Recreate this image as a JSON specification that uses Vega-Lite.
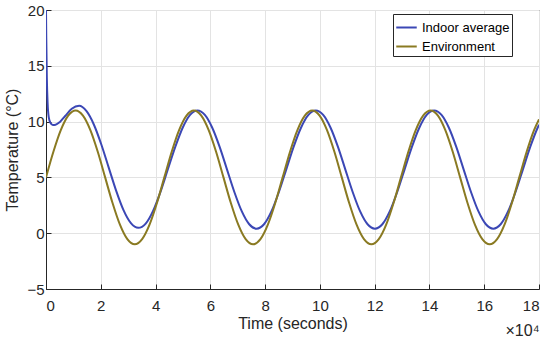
{
  "$schema": "https://vega.github.io/schema/vega-lite/v6.json",
  "width": 493,
  "height": 279,
  "autosize": {"type": "none"},
  "padding": {"left": 46, "top": 10, "right": 11, "bottom": 49},
  "background": "white",
  "config": {
    "font": "Liberation Sans",
    "view": {"stroke": "#262626", "strokeWidth": 1},
    "axis": {
      "domainColor": "#262626",
      "tickColor": "#262626",
      "labelColor": "#262626",
      "titleColor": "#262626",
      "gridColor": "#e3e3e3",
      "labelFontSize": 15,
      "titleFontSize": 16,
      "titleFontWeight": "normal",
      "tickSize": -5
    }
  },
  "title": {
    "text": "×10⁴",
    "orient": "bottom",
    "anchor": "end",
    "fontSize": 16,
    "fontWeight": "normal",
    "color": "#262626",
    "offset": -8
  },
  "data": {
    "values": [
      {"series": "Indoor average", "t": 0, "temp": 20.0},
      {"series": "Indoor average", "t": 0.01, "temp": 17.5},
      {"series": "Indoor average", "t": 0.03, "temp": 14.0},
      {"series": "Indoor average", "t": 0.06, "temp": 11.6},
      {"series": "Indoor average", "t": 0.1, "temp": 10.4},
      {"series": "Indoor average", "t": 0.16, "temp": 9.9},
      {"series": "Indoor average", "t": 0.25, "temp": 9.7},
      {"series": "Indoor average", "t": 0.35, "temp": 9.72},
      {"series": "Indoor average", "t": 0.5, "temp": 9.95},
      {"series": "Indoor average", "t": 0.7, "temp": 10.5},
      {"series": "Indoor average", "t": 0.94, "temp": 11.15},
      {"series": "Indoor average", "t": 1.21, "temp": 11.42},
      {"series": "Indoor average", "t": 1.48, "temp": 10.93},
      {"series": "Indoor average", "t": 1.75, "temp": 9.72},
      {"series": "Indoor average", "t": 2.02, "temp": 7.95},
      {"series": "Indoor average", "t": 2.29, "temp": 5.88},
      {"series": "Indoor average", "t": 2.56, "temp": 3.82},
      {"series": "Indoor average", "t": 2.83, "temp": 2.07},
      {"series": "Indoor average", "t": 3.10, "temp": 0.90},
      {"series": "Indoor average", "t": 3.37, "temp": 0.48},
      {"series": "Indoor average", "t": 3.64, "temp": 0.86},
      {"series": "Indoor average", "t": 3.91, "temp": 2.00},
      {"series": "Indoor average", "t": 4.18, "temp": 3.71},
      {"series": "Indoor average", "t": 4.45, "temp": 5.73},
      {"series": "Indoor average", "t": 4.72, "temp": 7.73},
      {"series": "Indoor average", "t": 4.99, "temp": 9.45},
      {"series": "Indoor average", "t": 5.26, "temp": 10.60},
      {"series": "Indoor average", "t": 5.53, "temp": 11.00},
      {"series": "Indoor average", "t": 5.80, "temp": 10.60},
      {"series": "Indoor average", "t": 6.07, "temp": 9.45},
      {"series": "Indoor average", "t": 6.34, "temp": 7.73},
      {"series": "Indoor average", "t": 6.61, "temp": 5.70},
      {"series": "Indoor average", "t": 6.88, "temp": 3.67},
      {"series": "Indoor average", "t": 7.15, "temp": 1.95},
      {"series": "Indoor average", "t": 7.42, "temp": 0.80},
      {"series": "Indoor average", "t": 7.69, "temp": 0.40},
      {"series": "Indoor average", "t": 7.96, "temp": 0.80},
      {"series": "Indoor average", "t": 8.23, "temp": 1.95},
      {"series": "Indoor average", "t": 8.50, "temp": 3.67},
      {"series": "Indoor average", "t": 8.77, "temp": 5.70},
      {"series": "Indoor average", "t": 9.04, "temp": 7.73},
      {"series": "Indoor average", "t": 9.31, "temp": 9.45},
      {"series": "Indoor average", "t": 9.58, "temp": 10.60},
      {"series": "Indoor average", "t": 9.85, "temp": 11.00},
      {"series": "Indoor average", "t": 10.12, "temp": 10.60},
      {"series": "Indoor average", "t": 10.39, "temp": 9.45},
      {"series": "Indoor average", "t": 10.66, "temp": 7.73},
      {"series": "Indoor average", "t": 10.93, "temp": 5.70},
      {"series": "Indoor average", "t": 11.20, "temp": 3.67},
      {"series": "Indoor average", "t": 11.47, "temp": 1.95},
      {"series": "Indoor average", "t": 11.74, "temp": 0.80},
      {"series": "Indoor average", "t": 12.01, "temp": 0.40},
      {"series": "Indoor average", "t": 12.28, "temp": 0.80},
      {"series": "Indoor average", "t": 12.55, "temp": 1.95},
      {"series": "Indoor average", "t": 12.82, "temp": 3.67},
      {"series": "Indoor average", "t": 13.09, "temp": 5.70},
      {"series": "Indoor average", "t": 13.36, "temp": 7.73},
      {"series": "Indoor average", "t": 13.63, "temp": 9.45},
      {"series": "Indoor average", "t": 13.90, "temp": 10.60},
      {"series": "Indoor average", "t": 14.17, "temp": 11.00},
      {"series": "Indoor average", "t": 14.44, "temp": 10.60},
      {"series": "Indoor average", "t": 14.71, "temp": 9.45},
      {"series": "Indoor average", "t": 14.98, "temp": 7.73},
      {"series": "Indoor average", "t": 15.25, "temp": 5.70},
      {"series": "Indoor average", "t": 15.52, "temp": 3.67},
      {"series": "Indoor average", "t": 15.79, "temp": 1.95},
      {"series": "Indoor average", "t": 16.06, "temp": 0.80},
      {"series": "Indoor average", "t": 16.33, "temp": 0.40},
      {"series": "Indoor average", "t": 16.60, "temp": 0.80},
      {"series": "Indoor average", "t": 16.87, "temp": 1.95},
      {"series": "Indoor average", "t": 17.14, "temp": 3.67},
      {"series": "Indoor average", "t": 17.41, "temp": 5.70},
      {"series": "Indoor average", "t": 17.68, "temp": 7.73},
      {"series": "Indoor average", "t": 17.95, "temp": 9.45},
      {"series": "Indoor average", "t": 18.00, "temp": 9.72},
      {"series": "Environment", "t": 0, "temp": 5.00},
      {"series": "Environment", "t": 0.27, "temp": 7.30},
      {"series": "Environment", "t": 0.54, "temp": 9.24},
      {"series": "Environment", "t": 0.81, "temp": 10.54},
      {"series": "Environment", "t": 1.08, "temp": 11.00},
      {"series": "Environment", "t": 1.35, "temp": 10.54},
      {"series": "Environment", "t": 1.62, "temp": 9.24},
      {"series": "Environment", "t": 1.89, "temp": 7.30},
      {"series": "Environment", "t": 2.16, "temp": 5.00},
      {"series": "Environment", "t": 2.43, "temp": 2.70},
      {"series": "Environment", "t": 2.70, "temp": 0.76},
      {"series": "Environment", "t": 2.97, "temp": -0.54},
      {"series": "Environment", "t": 3.24, "temp": -1.00},
      {"series": "Environment", "t": 3.51, "temp": -0.54},
      {"series": "Environment", "t": 3.78, "temp": 0.76},
      {"series": "Environment", "t": 4.05, "temp": 2.70},
      {"series": "Environment", "t": 4.32, "temp": 5.00},
      {"series": "Environment", "t": 4.59, "temp": 7.30},
      {"series": "Environment", "t": 4.86, "temp": 9.24},
      {"series": "Environment", "t": 5.13, "temp": 10.54},
      {"series": "Environment", "t": 5.40, "temp": 11.00},
      {"series": "Environment", "t": 5.67, "temp": 10.54},
      {"series": "Environment", "t": 5.94, "temp": 9.24},
      {"series": "Environment", "t": 6.21, "temp": 7.30},
      {"series": "Environment", "t": 6.48, "temp": 5.00},
      {"series": "Environment", "t": 6.75, "temp": 2.70},
      {"series": "Environment", "t": 7.02, "temp": 0.76},
      {"series": "Environment", "t": 7.29, "temp": -0.54},
      {"series": "Environment", "t": 7.56, "temp": -1.00},
      {"series": "Environment", "t": 7.83, "temp": -0.54},
      {"series": "Environment", "t": 8.10, "temp": 0.76},
      {"series": "Environment", "t": 8.37, "temp": 2.70},
      {"series": "Environment", "t": 8.64, "temp": 5.00},
      {"series": "Environment", "t": 8.91, "temp": 7.30},
      {"series": "Environment", "t": 9.18, "temp": 9.24},
      {"series": "Environment", "t": 9.45, "temp": 10.54},
      {"series": "Environment", "t": 9.72, "temp": 11.00},
      {"series": "Environment", "t": 9.99, "temp": 10.54},
      {"series": "Environment", "t": 10.26, "temp": 9.24},
      {"series": "Environment", "t": 10.53, "temp": 7.30},
      {"series": "Environment", "t": 10.80, "temp": 5.00},
      {"series": "Environment", "t": 11.07, "temp": 2.70},
      {"series": "Environment", "t": 11.34, "temp": 0.76},
      {"series": "Environment", "t": 11.61, "temp": -0.54},
      {"series": "Environment", "t": 11.88, "temp": -1.00},
      {"series": "Environment", "t": 12.15, "temp": -0.54},
      {"series": "Environment", "t": 12.42, "temp": 0.76},
      {"series": "Environment", "t": 12.69, "temp": 2.70},
      {"series": "Environment", "t": 12.96, "temp": 5.00},
      {"series": "Environment", "t": 13.23, "temp": 7.30},
      {"series": "Environment", "t": 13.50, "temp": 9.24},
      {"series": "Environment", "t": 13.77, "temp": 10.54},
      {"series": "Environment", "t": 14.04, "temp": 11.00},
      {"series": "Environment", "t": 14.31, "temp": 10.54},
      {"series": "Environment", "t": 14.58, "temp": 9.24},
      {"series": "Environment", "t": 14.85, "temp": 7.30},
      {"series": "Environment", "t": 15.12, "temp": 5.00},
      {"series": "Environment", "t": 15.39, "temp": 2.70},
      {"series": "Environment", "t": 15.66, "temp": 0.76},
      {"series": "Environment", "t": 15.93, "temp": -0.54},
      {"series": "Environment", "t": 16.20, "temp": -1.00},
      {"series": "Environment", "t": 16.47, "temp": -0.54},
      {"series": "Environment", "t": 16.74, "temp": 0.76},
      {"series": "Environment", "t": 17.01, "temp": 2.70},
      {"series": "Environment", "t": 17.28, "temp": 5.00},
      {"series": "Environment", "t": 17.55, "temp": 7.30},
      {"series": "Environment", "t": 17.82, "temp": 9.24},
      {"series": "Environment", "t": 18.00, "temp": 10.20}
    ]
  },
  "mark": {"type": "line", "interpolate": "monotone", "strokeWidth": 2, "clip": true},
  "encoding": {
    "x": {
      "field": "t",
      "type": "quantitative",
      "scale": {"domain": [0, 18], "nice": false, "zero": false},
      "axis": {"values": [0, 2, 4, 6, 8, 10, 12, 14, 16, 18], "title": "Time (seconds)", "labelPadding": 14, "titlePadding": 2}
    },
    "y": {
      "field": "temp",
      "type": "quantitative",
      "scale": {"domain": [-5, 20], "nice": false, "zero": false},
      "axis": {"values": [-5, 0, 5, 10, 15, 20], "title": "Temperature (°C)", "labelPadding": 7, "titleX": -26}
    },
    "color": {
      "field": "series",
      "type": "nominal",
      "scale": {"domain": ["Indoor average", "Environment"], "range": ["#3b47b5", "#8a7a22"]},
      "legend": {
        "title": null,
        "orient": "none",
        "legendX": 347,
        "legendY": 4,
        "fillColor": "white",
        "strokeColor": "#262626",
        "padding": 2,
        "labelFontSize": 13,
        "labelColor": "#000000",
        "labelOffset": 4,
        "symbolType": "stroke",
        "symbolStrokeWidth": 2,
        "symbolSize": 420,
        "rowPadding": -4
      }
    }
  }
}
